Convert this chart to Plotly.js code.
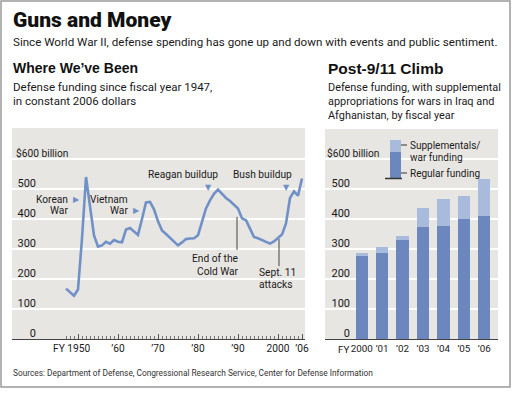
<!DOCTYPE html>
<html>
<head>
<meta charset="utf-8">
<script src="https://cdn.plot.ly/plotly-3.0.1.min.js"></script>
<style>html,body{margin:0;padding:0;background:#fff;}#chart{width:520px;height:393px;}</style>
</head>
<body>
<div id="chart"></div>
<script>
// ---- data ----
var years = [1947,1948,1949,1950,1951,1952,1953,1954,1955,1956,
             1957,1958,1959,1960,1961,1962,1963,1964,1965,1966,
             1967,1968,1969,1970,1971,1972,1973,1974,1975,1976,
             1977,1978,1979,1980,1981,1982,1983,1984,1985,1986,
             1987,1988,1989,1990,1991,1992,1993,1994,1995,1996,
             1997,1998,1999,2000,2001,2002,2003,2004,2005,2006];
var funding = [168,156,144,165,335,540,450,345,308,312,
               324,318,330,324,322,365,370,358,347,400,
               455,457,432,392,362,350,337,322,312,322,
               333,335,336,346,390,435,462,484,498,484,
               470,460,447,435,402,396,368,340,336,330,
               325,318,325,335,348,385,470,492,478,535];
var lineTickVals = [1950,1960,1970,1980,1990,2000,2006];
var lineTickText = ["FY 1950\u00a0\u00a0\u00a0\u00a0\u00a0","\u201960","\u201970","\u201980","\u201990","2000","\u201906"];

var barYears = [2000,2001,2002,2003,2004,2005,2006];
var regular = [278,287,330,372,377,399,409];
var supplemental = [8,19,13,64,90,79,126];
var barTickText = ["2000","\u201901","\u201902","\u201903","\u201904","\u201905","\u201906"];

var yTickVals = [0,100,200,300,400,500,600];
var yTickText = ["0","100","200","300","400","500",""];

// ---- styling helpers ----
var W = 520, H = 393;
function px(x){return x/W;}
function py(y){return 1 - y/H;}
var SANS = "Roboto, Liberation Sans, Arial, sans-serif";
var HEAD = "Liberation Sans, Arial, sans-serif";
var TXT = "#1a1a1a";
var LINE_BLUE = "#7090c8";
var DARK_BAR = "#6b87be";
var LIGHT_BAR = "#a9bbdc";
var BG = "#e8e6e2";

function ann(text, x, y, xanchor, size, opts){
  var a = {text:text, xref:"paper", yref:"paper", x:px(x), y:py(y),
    xanchor:xanchor||"left", yanchor:"middle", showarrow:false,
    font:{family:SANS, size:size||12, color:TXT}};
  if(opts){for(var k in opts){a[k]=opts[k];}}
  return a;
}
function tri(ch, x, y){
  return ann(ch, x, y, "center", 8, {font:{family:"DejaVu Sans, sans-serif", size:8, color:LINE_BLUE}});
}

var traces = [
  {type:"scatter", mode:"lines", x:years, y:funding, xaxis:"x", yaxis:"y",
   line:{color:LINE_BLUE, width:2.6}, hoverinfo:"skip", showlegend:false},
  {type:"bar", x:barYears, y:regular, xaxis:"x2", yaxis:"y2", width:0.6,
   marker:{color:DARK_BAR, line:{width:0}}, name:"Regular funding", showlegend:false},
  {type:"bar", x:barYears, y:supplemental, xaxis:"x2", yaxis:"y2", width:0.6,
   marker:{color:LIGHT_BAR, line:{width:0}}, name:"Supplementals/war funding", showlegend:false}
];

var yCommon = {
  tickmode:"array", tickvals:yTickVals, ticktext:yTickText,
  showgrid:true, gridcolor:"#ffffff", gridwidth:1.6, zeroline:false,
  showline:false, ticks:"", anchor:"free", side:"left",
  ticklabelposition:"outside", ticklabelshift:-6,
  tickfont:{family:SANS, size:11, color:TXT}
};

var layout = {
  width:W, height:H, margin:{l:0,r:0,t:0,b:0},
  paper_bgcolor:"#ffffff", plot_bgcolor:BG, barmode:"stack", bargap:0,
  showlegend:false,
  xaxis:{domain:[px(12),px(305)], range:[1933.5,2006.75], anchor:"y",
    tickmode:"array", tickvals:lineTickVals, ticktext:lineTickText, tickangle:0,
    ticks:"inside", ticklen:5, tickcolor:"#555", tickwidth:1,
    showline:true, linecolor:"#444", linewidth:1, showgrid:false, zeroline:false,
    minor:{tickmode:"array", tickvals:years, ticks:"inside", ticklen:3, tickcolor:"#777", tickwidth:1, showgrid:false},
    tickfont:{family:SANS, size:10.2, color:TXT}},
  yaxis:Object.assign({}, yCommon, {domain:[py(339),py(128)], range:[0,703.3], position:px(36)}),
  xaxis2:{domain:[px(325),px(498)], range:[1998.204,2006.67], anchor:"y2",
    tickmode:"array", tickvals:barYears, ticktext:barTickText, tickangle:0,
    ticks:"", showline:true, linecolor:"#444", linewidth:1, showgrid:false, zeroline:false,
    tickfont:{family:SANS, size:9.8, color:TXT}},
  yaxis2:Object.assign({}, yCommon, {domain:[py(339),py(129)], range:[0,700], position:px(350)}),
  shapes:[
    // outer frame
    {type:"rect", xref:"paper", yref:"paper", x0:px(1), x1:px(510), y0:py(387), y1:py(1),
     line:{color:"#9a9a9a", width:1.5}, fillcolor:"rgba(0,0,0,0)"},
    // cover gridline behind legend
    {type:"rect", xref:"paper", yref:"paper", x0:px(383), x1:px(498), y0:py(168), y1:py(150),
     line:{width:0}, fillcolor:BG, layer:"between"},
    // legend swatch
    {type:"rect", xref:"paper", yref:"paper", x0:px(390), x1:px(401), y0:py(152), y1:py(140),
     line:{width:0}, fillcolor:LIGHT_BAR},
    {type:"rect", xref:"paper", yref:"paper", x0:px(390), x1:px(401), y0:py(178), y1:py(152),
     line:{width:0}, fillcolor:DARK_BAR},
    {type:"line", xref:"paper", yref:"paper", x0:px(385), x1:px(402), y0:py(178.5), y1:py(178.5),
     line:{color:"#333", width:1.5}},
    {type:"line", xref:"paper", yref:"paper", x0:px(401), x1:px(407), y0:py(145), y1:py(145),
     line:{color:"#333", width:1}},
    {type:"line", xref:"paper", yref:"paper", x0:px(401), x1:px(407), y0:py(173), y1:py(173),
     line:{color:"#333", width:1}},
    // leader lines
    {type:"line", xref:"x", yref:"y", x0:1989.75, x1:1989.75, y0:407, y1:297,
     line:{color:"#444", width:1}},
    {type:"line", xref:"x", yref:"y", x0:2000.25, x1:2000.25, y0:333, y1:243,
     line:{color:"#444", width:1}}
  ],
  annotations:[
    ann("Guns and Money", 11, 20, "left", 21, {font:{family:SANS, size:21, color:"#111", weight:900}}),
    ann("Since World War II, defense spending has gone up and down with events and public sentiment.", 11, 42, "left", 11.6),
    ann("<b>Where We\u2019ve Been</b>", 11, 68, "left", 14, {font:{family:HEAD, size:14, color:"#111"}}),
    ann("Defense funding since fiscal year 1947,", 11, 87, "left", 11.5),
    ann("in constant 2006 dollars", 11, 101, "left", 11.5),
    ann("<b>Post-9/11 Climb</b>", 326, 68, "left", 15.5, {font:{family:HEAD, size:15.5, color:"#111"}}),
    ann("Defense funding, with supplemental", 326, 87, "left", 10.9),
    ann("appropriations for wars in Iraq and", 326, 101, "left", 10.9),
    ann("Afghanistan, by fiscal year", 326, 115, "left", 10.9),
    ann("$600 billion", 14, 153, "left", 10.2),
    ann("$600 billion", 325, 153, "left", 10.2),
    // "FY" prefix of the first bar-chart tick label
    ann("FY", 351, 349, "right", 9.8),
    // line annotations
    ann("Korean", 70, 199, "right", 10.2),
    ann("War", 70, 210, "right", 10.2),
    tri("\u25B6", 76.5, 199),
    ann("Vietnam", 129.5, 199, "right", 10.2),
    ann("War", 129.5, 210, "right", 10.2),
    tri("\u25B6", 136, 210),
    ann("Reagan buildup", 183, 174, "center", 10.2),
    tri("\u25BC", 208.5, 187),
    ann("Bush buildup", 262, 174, "center", 10.2),
    tri("\u25BC", 286, 187),
    ann("End of the", 241, 258, "right", 10.2),
    ann("Cold War", 241, 271, "right", 10.2),
    ann("Sept. 11", 256.5, 272, "left", 10.2),
    ann("attacks", 256.5, 284.5, "left", 10.2),
    // legend text
    ann("Supplementals/", 408, 145, "left", 10),
    ann("war funding", 408, 158, "left", 10),
    ann("Regular funding", 408, 173, "left", 10),
    // source
    ann("Sources: Department of Defense, Congressional Research Service, Center for Defense Information", 11, 373, "left", 8.3, {font:{family:SANS, size:8.3, color:"#333"}})
  ]
};

Plotly.newPlot("chart", traces, layout, {staticPlot:true, displayModeBar:false});
</script>
</body>
</html>
